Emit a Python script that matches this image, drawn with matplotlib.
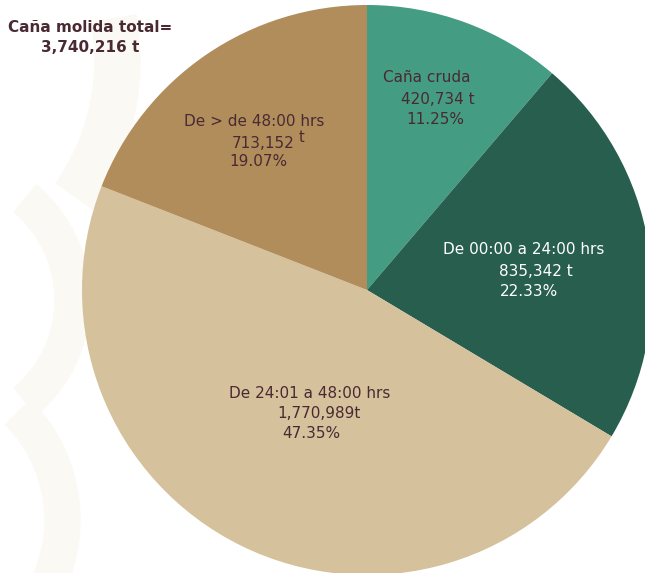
import matplotlib
matplotlib.use("Agg")
import matplotlib.pyplot as plt
from matplotlib.patches import Wedge

categories = ["Caña cruda", "De 00:00 a 24:00 hrs", "De 24:01 a 48:00 hrs", "De > de 48:00 hrs"]
values = [420734, 835342, 1770989, 713152]
value_labels = ["420,734", "835,342", "1,770,989", "713,152"]
percent_labels = ["11.25%", "22.33%", "47.35%", "19.07%"]
total_label = "3,740,216 t"
colors = ["#449C82", "#285E4E", "#D5C19B", "#B28D5C"]
text_colors = ["#4A2A32", "#FFFFFF", "#4A2A32", "#4A2A32"]

W, H = 645, 573
fig = plt.figure(figsize=(W / 100, H / 100), dpi=100)
ax = fig.add_axes([0, 0, 1, 1])

def Y(y):
    return H - y

# very faint background watermark shapes
wm = "#FBF9F4"
ax.add_patch(Wedge((-120, Y(60)), 260, -35, 10, width=45, color=wm, zorder=0))
ax.add_patch(Wedge((-60, Y(300)), 150, -50, 50, width=35, color=wm, zorder=0))
ax.add_patch(Wedge((-90, Y(520)), 170, -30, 45, width=35, color=wm, zorder=0))

ax.pie(values, colors=colors, startangle=90, counterclock=False,
       center=(367, Y(290)), radius=285, frame=True,
       wedgeprops=dict(linewidth=0))

ax.set_xlim(0, W)
ax.set_ylim(0, H)
ax.set_aspect("equal", adjustable="box")
ax.axis("off")

fam = ["DejaVu Sans"]
fs = 11

def line(x, y, s, c, **kw):
    ax.text(x, Y(y), s, color=c, fontsize=kw.pop("size", fs), family=fam,
            ha="left", va="center", **kw)

# title
ax.text(90, Y(27), "Caña molida total=", color="#4A2A32", fontsize=11,
        fontweight="bold", family=fam, ha="center", va="center")
ax.text(90, Y(48), total_label, color="#4A2A32", fontsize=11,
        fontweight="bold", family=fam, ha="center", va="center")

# Caña cruda
line(383, 78, categories[0], text_colors[0])
line(401, 99, value_labels[0] + " t", text_colors[0])
line(406, 119, percent_labels[0], text_colors[0])

# 00:00 a 24:00
line(443, 250, categories[1], text_colors[1])
line(499, 271, value_labels[1] + " t", text_colors[1])
line(500, 291, percent_labels[1], text_colors[1])

# 24:01 a 48:00
line(229, 393, categories[2], text_colors[2])
line(277, 413, value_labels[2] + "t", text_colors[2])
line(282, 433, percent_labels[2], text_colors[2])

# > 48:00
line(184, 122, categories[3], text_colors[3])
line(232, 143, value_labels[3], text_colors[3])
line(299, 137, "t", text_colors[3], size=10.5)
line(229, 162, percent_labels[3], text_colors[3])

fig.savefig("out.png", dpi=100)
